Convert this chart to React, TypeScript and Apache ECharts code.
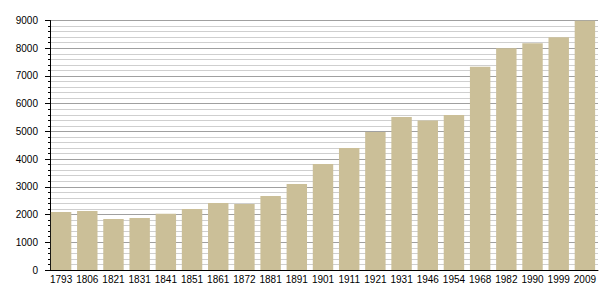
import React, { useEffect, useRef } from "react";
import * as echarts from "echarts";

const years = ["1793","1806","1821","1831","1841","1851","1861","1872","1881","1891","1901","1911","1921","1931","1946","1954","1968","1982","1990","1999","2009"];
const population = [2090, 2130, 1840, 1880, 2030, 2200, 2420, 2380, 2670, 3100, 3820, 4400, 4980, 5520, 5390, 5590, 7335, 8000, 8180, 8400, 8990];
const yMin = 0;
const yMax = 9000;
const yStep = 1000;

export default function App() {
  const ref = useRef<HTMLDivElement>(null);
  useEffect(() => {
    if (!ref.current) return;
    const chart = echarts.init(ref.current, null, { renderer: "svg" });
    chart.setOption({
      animation: false,
      backgroundColor: "#ffffff",
      grid: { left: 48, right: 7, top: 20.5, bottom: 30, containLabel: false },
      xAxis: {
        type: "category",
        data: years,
        boundaryGap: true,
        axisLine: { show: true, lineStyle: { color: "#000", width: 1 } },
        axisTick: { show: false },
        axisLabel: { color: "#000", fontSize: 10, fontFamily: "Liberation Sans, Arial, sans-serif", margin: 4, interval: 0 },
        splitLine: { show: false },
      },
      yAxis: {
        type: "value",
        min: yMin,
        max: yMax,
        interval: yStep,
        offset: -2,
        axisLine: { show: true, lineStyle: { color: "#000", width: 1 } },
        axisTick: { show: true, length: 5, lineStyle: { color: "#000" } },
        minorTick: { show: true, splitNumber: 5, length: 2, lineStyle: { color: "#000" } },
        axisLabel: {
          color: "#000",
          fontSize: 10,
          fontFamily: "Liberation Sans, Arial, sans-serif",
          margin: 12,
          formatter: (v: number) => String(v),
        },
        splitLine: { show: true, lineStyle: { color: "#a0a0a0", width: 1 } },
        minorSplitLine: { show: true, lineStyle: { color: "#cfcfcf", width: 1 } },
      },
      series: [
        {
          type: "bar",
          data: population,
          barCategoryGap: "22%",
          itemStyle: { color: "#cbbf98" },
        },
      ],
    });
    return () => chart.dispose();
  }, []);
  return <div ref={ref} style={{ width: 605, height: 300, position: "absolute", left: 0, top: 0 }} />;
}
